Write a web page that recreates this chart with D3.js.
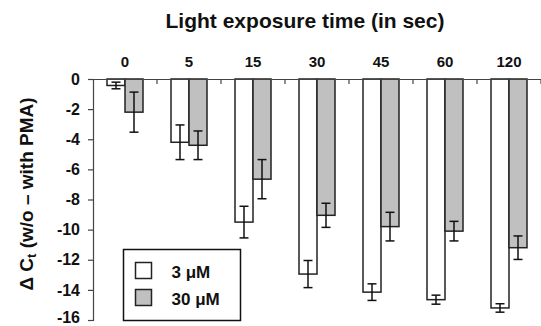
<html>
<head>
<script src="https://cdn.jsdelivr.net/npm/d3@7"></script>
<style>
  body { margin: 0; background: #fff; }
  text { font-family: "Liberation Sans", Arial, sans-serif; font-weight: bold; fill: #111; }
</style>
</head>
<body>
<svg id="chart"></svg>
<script>
const WIDTH = 541
const HEIGHT = 326

// exposure times (top axis)
const times = ["0", "5", "15", "30", "45", "60", "120"]
const series = ["3 μM", "30 μM"]
const colors = ["#ffffff", "#c0c0c0"]
// mean delta Ct per time, one array per concentration
const mean3 = [-0.43, -4.2, -9.5, -12.95, -14.15, -14.65, -15.2]
const err3 = [0.22, 1.15, 1.05, 0.9, 0.55, 0.3, 0.28]
const mean30 = [-2.2, -4.4, -6.65, -9.05, -9.8, -10.1, -11.2]
const err30 = [1.33, 0.95, 1.3, 0.8, 0.95, 0.65, 0.78]
const yTicks = [0, -2, -4, -6, -8, -10, -12, -14, -16]

const margin = {left: 93, right: 0, top: 79, bottom: 6}

const svg = d3.select("#chart").attr("width", WIDTH).attr("height", HEIGHT)

let x0 = d3.scaleBand().domain(times).range([margin.left, WIDTH - margin.right]).padding(0)
let x1 = d3.scaleBand().domain(series).range([14, x0.bandwidth() - 14]).padding(0)
let y = d3.scaleLinear().domain([0, -16]).range([margin.top, HEIGHT - margin.bottom])

let rows = times.map((t, i) => ({
    time: t,
    vals: [
        {s: series[0], v: mean3[i], e: err3[i], c: colors[0]},
        {s: series[1], v: mean30[i], e: err30[i], c: colors[1]}
    ]
}))

// bars
let groups = svg.append("g")
    .selectAll("g")
    .data(rows)
    .enter()
    .append("g")
    .attr("transform", d => `translate(${x0(d.time)},0)`)

groups.selectAll("rect")
    .data(d => d.vals)
    .enter()
    .append("rect")
        .attr("x", d => x1(d.s))
        .attr("y", y(0))
        .attr("width", x1.bandwidth())
        .attr("height", d => y(d.v) - y(0))
        .attr("fill", d => d.c)
        .attr("stroke", "#222")
        .attr("stroke-width", 1.5)

// error bars
let eb = groups.selectAll("g.err")
    .data(d => d.vals)
    .enter()
    .append("g")
    .attr("class", "err")
    .attr("stroke", "#111")
    .attr("stroke-width", 1.5)

let cx = d => x1(d.s) + x1.bandwidth() / 2
eb.append("line")
    .attr("x1", cx).attr("x2", cx)
    .attr("y1", d => y(d.v + d.e)).attr("y2", d => y(d.v - d.e))
eb.append("line")
    .attr("x1", d => cx(d) - 4.5).attr("x2", d => cx(d) + 4.5)
    .attr("y1", d => y(d.v + d.e)).attr("y2", d => y(d.v + d.e))
eb.append("line")
    .attr("x1", d => cx(d) - 4.5).attr("x2", d => cx(d) + 4.5)
    .attr("y1", d => y(d.v - d.e)).attr("y2", d => y(d.v - d.e))

// y axis
let yAxis = svg.append("g")
    .attr("transform", `translate(${margin.left},0)`)
    .call(d3.axisLeft(y).tickValues(yTicks).tickSize(5).tickPadding(8).tickFormat(d => d === 0 ? "0" : "-" + Math.abs(d)))
yAxis.selectAll("text").style("font-size", "16px").attr("fill", "#111")
// bottom label sits on the image edge, nudge it up so it stays visible
yAxis.selectAll("text").filter(d => d === -16).attr("y", -3)
yAxis.selectAll("line,path").attr("stroke", "#444").attr("stroke-width", 1.2)

// top axis: labels at group centres, ticks at group boundaries
let xAxis = svg.append("g")
    .attr("transform", `translate(0,${margin.top})`)
    .call(d3.axisTop(x0).tickSize(0).tickPadding(12).tickSizeOuter(0))
xAxis.selectAll("text").style("font-size", "15px").attr("fill", "#111")
xAxis.select("path").attr("stroke", "#444").attr("stroke-width", 1.2)

svg.append("g")
    .selectAll("line")
    .data(times)
    .enter()
    .append("line")
        .attr("x1", d => x0(d) + x0.step())
        .attr("x2", d => x0(d) + x0.step())
        .attr("y1", margin.top)
        .attr("y2", margin.top + 5)
        .attr("stroke", "#444")
        .attr("stroke-width", 1.2)

// titles
svg.append("text")
    .attr("x", 305)
    .attr("y", 28)
    .attr("text-anchor", "middle")
    .style("font-size", "21px")
    .text("Light exposure time (in sec)")

let yl = svg.append("text")
    .attr("transform", `translate(33,194) rotate(-90)`)
    .attr("text-anchor", "middle")
    .style("font-size", "19px")
yl.append("tspan").text("Δ C")
yl.append("tspan").attr("baseline-shift", "-25%").style("font-size", "13px").text("t")
yl.append("tspan").text(" (w/o – with PMA)")

// legend
let legend = svg.append("g").attr("transform", "translate(123.5,249.5)")
legend.append("rect")
    .attr("width", 117).attr("height", 71)
    .attr("fill", "#fff").attr("stroke", "#111").attr("stroke-width", 1.5)
let items = legend.selectAll("g.item")
    .data(series)
    .enter()
    .append("g")
    .attr("class", "item")
    .attr("transform", (d, i) => `translate(12,${13 + i * 27})`)
items.append("rect")
    .attr("width", 16).attr("height", 16)
    .attr("fill", (d, i) => colors[i])
    .attr("stroke", "#222").attr("stroke-width", 1.5)
items.append("text")
    .attr("x", 36).attr("y", 15)
    .style("font-size", "17px")
    .text(d => d)
</script>
</body>
</html>
